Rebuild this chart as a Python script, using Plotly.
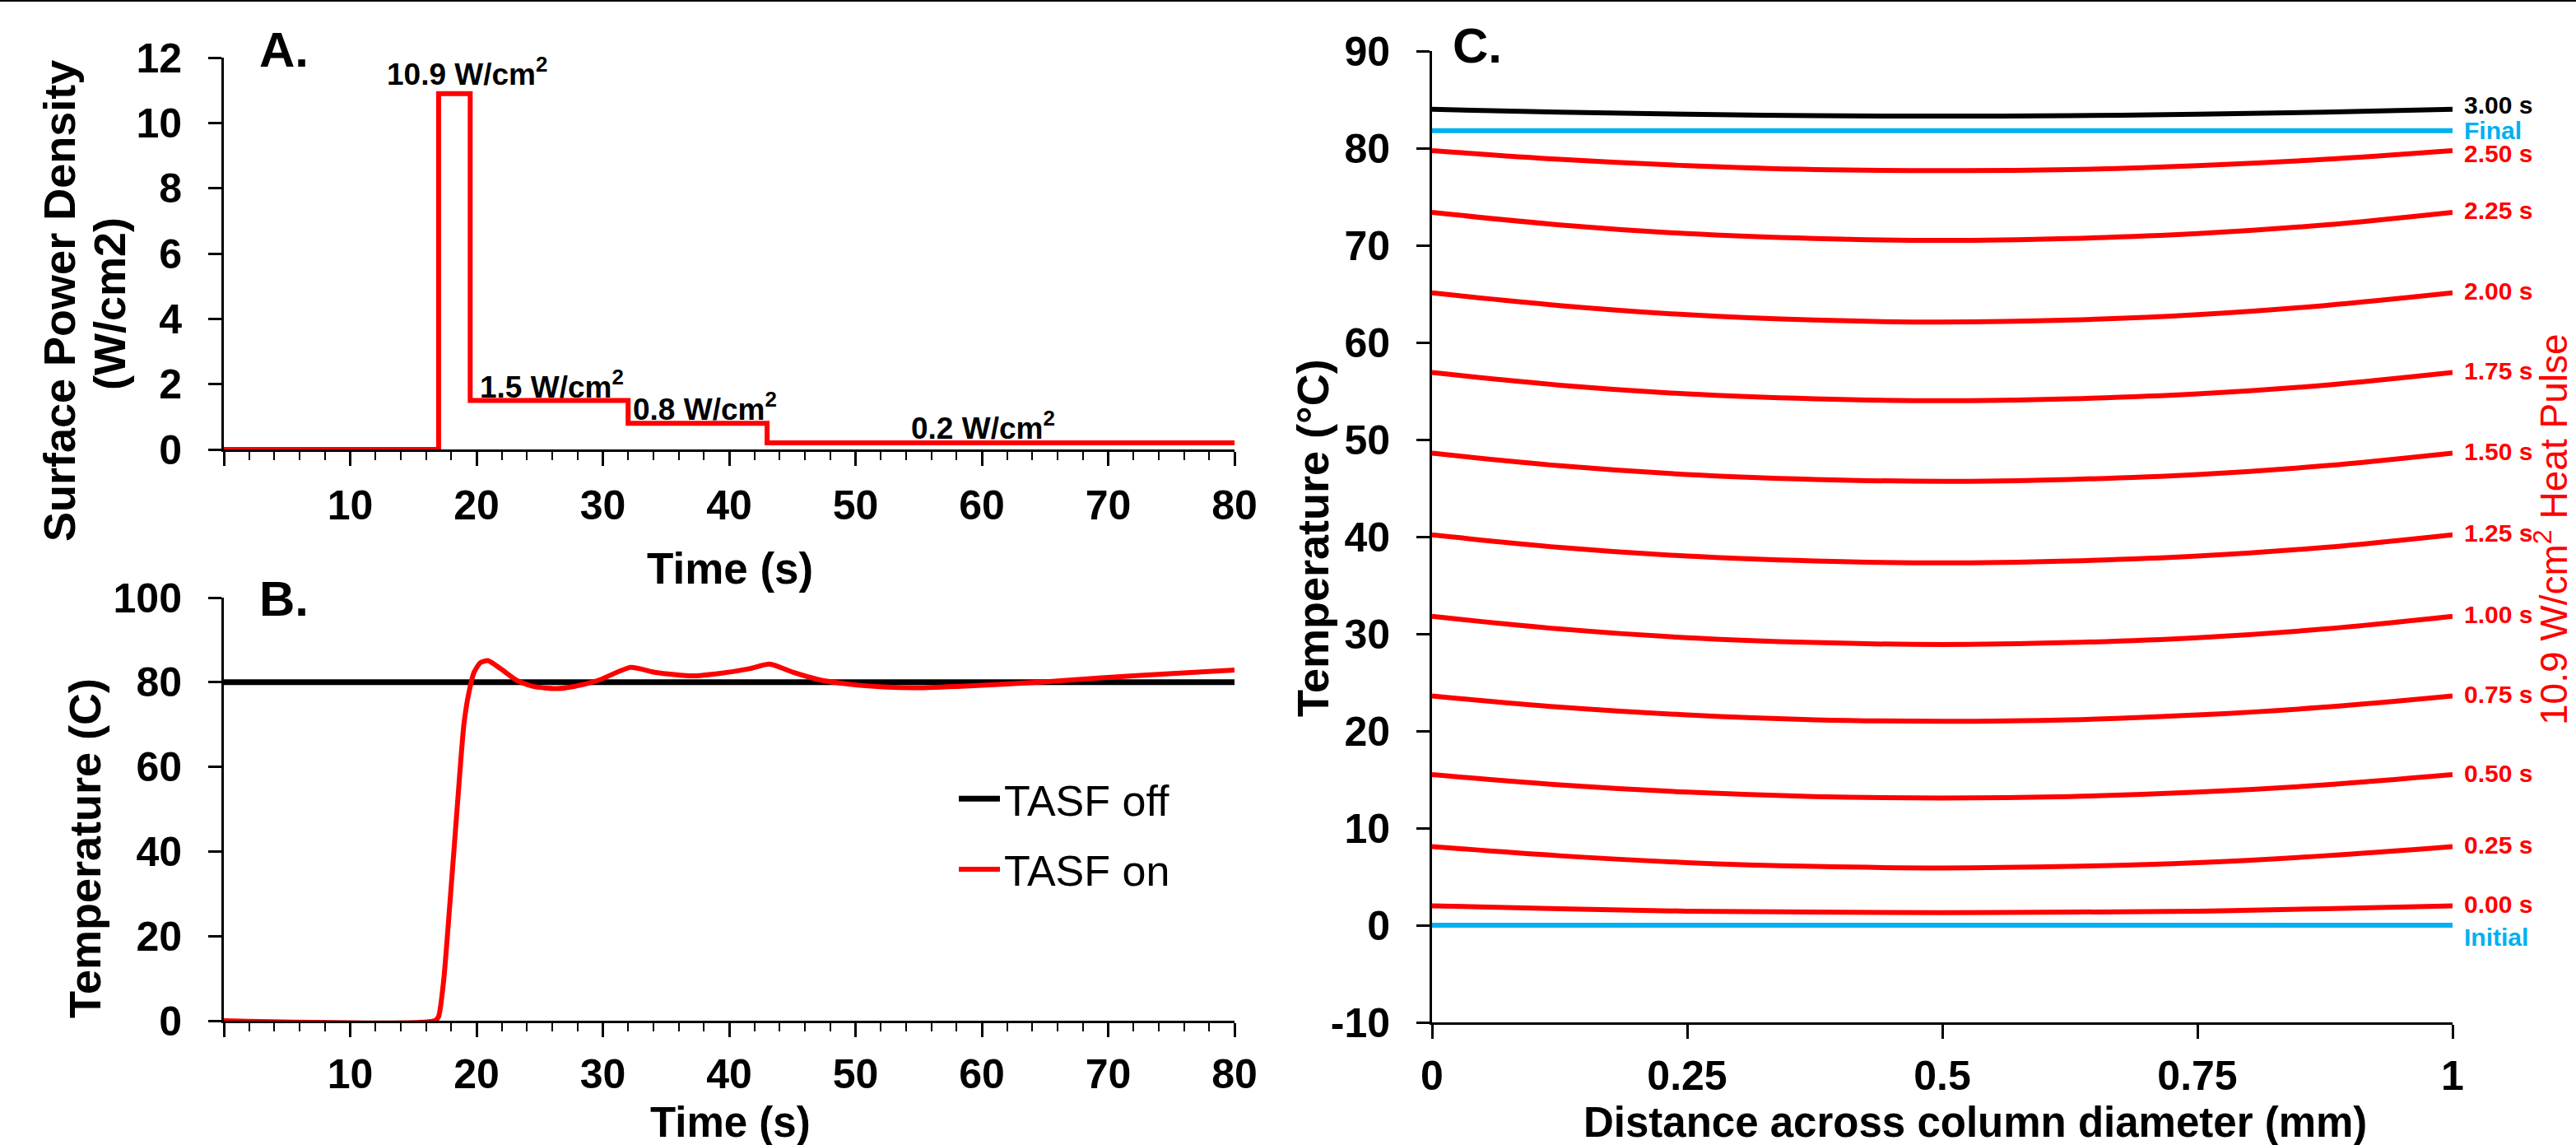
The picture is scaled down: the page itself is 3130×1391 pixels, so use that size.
import plotly.graph_objects as go

W, H = 3130, 1391
FONT = "Liberation Sans, Arial, sans-serif"
RED = "#FF0000"
CYAN = "#00B0F0"

# ---------------- Panel A data ----------------
pulse_time = [0, 17, 19.5, 32, 43, 80]
pulse_power = [0, 10.9, 1.5, 0.8, 0.2, 0.2]
pulse_labels = ["10.9 W/cm<sup>2</sup>", "1.5 W/cm<sup>2</sup>", "0.8 W/cm<sup>2</sup>", "0.2 W/cm<sup>2</sup>"]

# ---------------- Panel B data ----------------
off_time = [0, 80]
off_temp = [80, 80]
on_time = [0, 16.7, 17.0, 17.4, 17.9, 18.5, 19.0, 19.4, 19.8, 20.3, 20.9, 21.9, 23.2, 24.5,
           26.3, 27.7, 29.6, 32.2, 34.2, 37.1, 39.3, 41.6, 43.2, 45.1, 47.1, 49.6, 52.2,
           54.8, 58.7, 65.1, 69.7, 74.8, 80.0]
on_temp = [0, 0, 1, 9.5, 28, 51.5, 70, 77.6, 82.3, 84.6, 85.1, 83.2, 80.4, 79.0,
           78.5, 79.0, 80.4, 83.5, 82.3, 81.5, 82.1, 83.2, 84.3, 82.3, 80.6, 79.5, 78.9,
           78.7, 79.1, 80.1, 81.1, 82.0, 82.9]

# ---------------- Panel C data ----------------
distance = [0, 0.125, 0.25, 0.375, 0.5, 0.625, 0.75, 0.875, 1]
temp_initial = [0, 0, 0, 0, 0, 0, 0, 0, 0]
temp_000 = [2.0, 1.7, 1.45, 1.35, 1.3, 1.35, 1.45, 1.7, 2.0]
temp_025 = [8.1, 7.15, 6.45, 6.05, 5.9, 6.05, 6.45, 7.15, 8.1]
temp_050 = [15.5, 14.45, 13.7, 13.25, 13.1, 13.25, 13.7, 14.45, 15.5]
temp_075 = [23.6, 22.45, 21.65, 21.15, 21.0, 21.15, 21.65, 22.45, 23.6]
temp_100 = [31.8, 30.5, 29.6, 29.1, 28.9, 29.1, 29.6, 30.5, 31.8]
temp_125 = [40.2, 38.9, 38.0, 37.5, 37.3, 37.5, 38.0, 38.9, 40.2]
temp_150 = [48.6, 47.3, 46.4, 45.9, 45.7, 45.9, 46.4, 47.3, 48.6]
temp_175 = [56.9, 55.6, 54.7, 54.2, 54.0, 54.2, 54.7, 55.6, 56.9]
temp_200 = [65.1, 63.8, 62.85, 62.3, 62.1, 62.3, 62.85, 63.8, 65.1]
temp_225 = [73.4, 72.1, 71.2, 70.7, 70.5, 70.7, 71.2, 72.1, 73.4]
temp_250 = [79.75, 78.85, 78.2, 77.8, 77.7, 77.8, 78.2, 78.85, 79.75]
temp_final = [81.8, 81.8, 81.8, 81.8, 81.8, 81.8, 81.8, 81.8, 81.8]
temp_300 = [84.0, 83.7, 83.5, 83.35, 83.3, 83.35, 83.5, 83.7, 84.0]

c_series = [
    ("Initial", temp_initial, CYAN),
    ("0.00 s", temp_000, RED),
    ("0.25 s", temp_025, RED),
    ("0.50 s", temp_050, RED),
    ("0.75 s", temp_075, RED),
    ("1.00 s", temp_100, RED),
    ("1.25 s", temp_125, RED),
    ("1.50 s", temp_150, RED),
    ("1.75 s", temp_175, RED),
    ("2.00 s", temp_200, RED),
    ("2.25 s", temp_225, RED),
    ("2.50 s", temp_250, RED),
    ("Final", temp_final, CYAN),
    ("3.00 s", temp_300, "black"),
]
label_yshift = {"Initial": -14, "Final": 0, "3.00 s": 5, "2.50 s": -4}

a_xticks = [0, 10, 20, 30, 40, 50, 60, 70, 80]
a_xticktext = ["", "10", "20", "30", "40", "50", "60", "70", "80"]
c_xticks = [0, 0.25, 0.5, 0.75, 1]
c_xticktext = ["0", "0.25", "0.5", "0.75", "1"]
c_yticks = [-10, 0, 10, 20, 30, 40, 50, 60, 70, 80, 90]
c_yticktext = ["-10", "0", "10", "20", "30", "40", "50", "60", "70", "80", "90"]


def px(xp):
    return xp / W


def py(yp):
    return 1 - yp / H


fig = go.Figure()

# Panel A
fig.add_trace(go.Scatter(x=pulse_time, y=pulse_power, mode="lines", line_shape="hv",
                         line=dict(color=RED, width=6), showlegend=False,
                         xaxis="x", yaxis="y"))
# Panel B
fig.add_trace(go.Scatter(x=off_time, y=off_temp, mode="lines", name="TASF off",
                         line=dict(color="black", width=7), legendgroup="off",
                         xaxis="x2", yaxis="y2"))
fig.add_trace(go.Scatter(x=on_time, y=on_temp, mode="lines", name="TASF on",
                         line=dict(color=RED, width=6, shape="spline", smoothing=0.6),
                         legendgroup="on", xaxis="x2", yaxis="y2"))
# Panel C
for name, vals, col in c_series:
    fig.add_trace(go.Scatter(x=distance, y=vals, mode="lines", name=name,
                             line=dict(color=col, width=6, shape="spline"),
                             showlegend=False, xaxis="x3", yaxis="y3"))

tickfont = dict(family=FONT, size=50, color="black", weight="bold")
common = dict(showline=True, linecolor="black", linewidth=3, ticks="outside",
              tickcolor="black", tickwidth=3, showgrid=False, zeroline=False,
              tickfont=tickfont, fixedrange=True)
xcommon = dict(ticklen=17, **common)
ycommon = dict(ticklen=16, ticklabelstandoff=22, **common)
minor_x = dict(dtick=2, tick0=0, ticklen=10, tickwidth=2, ticks="outside", tickcolor="black")

ax_dom_x = [px(272), px(1500)]
fig.update_layout(
    width=W, height=H,
    margin=dict(l=0, r=0, t=0, b=0, autoexpand=False),
    paper_bgcolor="white", plot_bgcolor="white",
    font=dict(family=FONT, color="black"),
    xaxis=dict(domain=ax_dom_x, anchor="y", range=[0, 80], tickmode="array",
               tickvals=a_xticks, ticktext=a_xticktext, minor=minor_x,
               ticklabelstandoff=5, **xcommon),
    yaxis=dict(domain=[py(546), py(70)], anchor="x", range=[0, 12], dtick=2, **ycommon),
    xaxis2=dict(domain=ax_dom_x, anchor="y2", range=[0, 80], tickmode="array",
                tickvals=a_xticks, ticktext=a_xticktext, minor=minor_x,
                ticklabelstandoff=2, **xcommon),
    yaxis2=dict(domain=[py(1240), py(726)], anchor="x2", range=[0, 100], dtick=20, **ycommon),
    xaxis3=dict(domain=[px(1740), px(2980)], anchor="y3", range=[0, 1], tickmode="array",
                tickvals=c_xticks, ticktext=c_xticktext, ticklabelstandoff=2, **xcommon),
    yaxis3=dict(domain=[py(1242), py(62)], anchor="x3", range=[-10, 90], tickmode="array",
                tickvals=c_yticks, ticktext=c_yticktext, **ycommon),
    legend=dict(x=px(1160), y=py(930), xanchor="left", yanchor="top",
                font=dict(family=FONT, size=52, color="black"),
                bgcolor="rgba(0,0,0,0)", tracegroupgap=15, itemwidth=50),
)

ann = []


def add_text(text, xp, yp, size, bold=True, color="black", angle=0, xanchor="center"):
    ann.append(dict(text=text, x=px(xp), y=py(yp), xref="paper", yref="paper",
                    showarrow=False, textangle=angle, xanchor=xanchor, yanchor="middle",
                    font=dict(family=FONT, size=size, color=color,
                              weight="bold" if bold else "normal")))


# panel letters
add_text("A.", 345, 60, 60)
add_text("B.", 345, 727, 60)
add_text("C.", 1795, 56, 60)

# Panel A pulse labels
for lab, (xp, yp) in zip(pulse_labels, [(567, 88), (670, 467), (856, 494), (1194, 517)]):
    add_text(lab, xp, yp, 37)

# axis titles
add_text("Time (s)", 887, 690, 53)
add_text("Time (s)", 887, 1363, 51)
add_text("Distance across column diameter (mm)", 2400, 1363, 51)
add_text("Surface Power Density", 72, 366, 54, angle=-90)
add_text("(W/cm2)", 133, 369, 54, angle=-90)
add_text("Temperature (C)", 103, 1031, 54, angle=-90)
add_text("Temperature (°C)", 1595, 654, 54, angle=-90)
add_text("10.9 W/cm<sup>2</sup> Heat Pulse", 3100, 643, 46, bold=False, color=RED, angle=-90)

# Panel C curve labels (anchored at each curve's right-end value)
for name, vals, col in c_series:
    ann.append(dict(text=name, x=1.0, y=vals[-1], xref="x3", yref="y3", showarrow=False,
                    xanchor="left", yanchor="middle", xshift=12,
                    yshift=label_yshift.get(name, 2),
                    font=dict(family=FONT, size=30, color=col, weight="bold")))

fig.update_layout(annotations=ann,
                  shapes=[dict(type="line", xref="paper", yref="paper", x0=0, x1=1,
                               y0=1, y1=1, line=dict(color="black", width=4))])

fig.write_html("out.html", config={"displayModeBar": False},
               post_script="document.body.style.margin='0';document.body.style.overflow='hidden';")
